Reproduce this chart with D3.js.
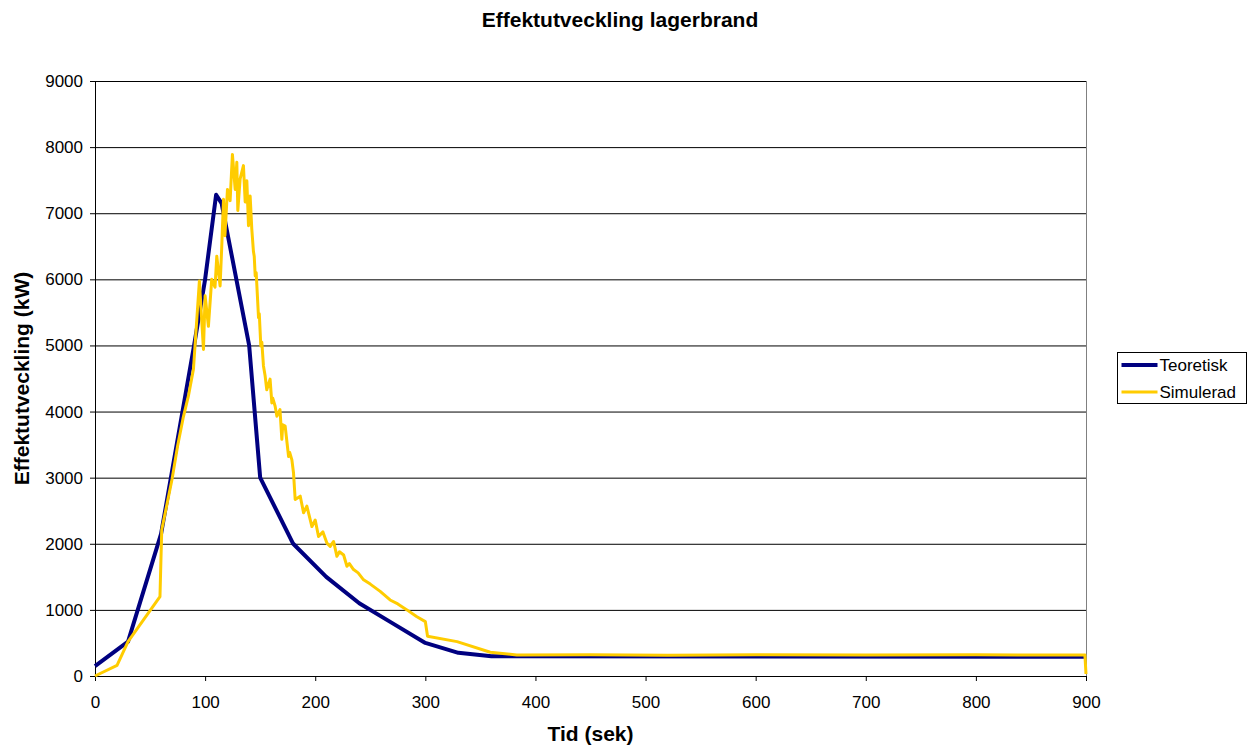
<!DOCTYPE html>
<html>
<head>
<meta charset="utf-8">
<script src="https://cdn.jsdelivr.net/npm/d3@7"></script>
<style>
  body { margin: 0; background: #fff; }
  text { font-family: Arial, "Liberation Sans", sans-serif; }
  .axis text { font-size: 17px; fill: #000; }
  .axis path, .axis line { stroke: #000; }
  .grid line { stroke: #000; }
  .grid path { display: none; }
</style>
</head>
<body>
<div id="chart"></div>
<script>
// Data
var theoTime  = [0, 30, 60, 90, 100, 110, 115, 140, 150, 180, 210, 240, 270, 300, 330, 360, 900];
var theoPower = [150, 520, 2150, 5000, 6000, 7280, 7150, 5000, 3000, 2000, 1500, 1100, 800, 500, 350, 300, 290];

var simTime  = [0, 20, 30, 59, 60.6, 66, 70, 75, 80, 85, 89.4, 94.8, 98.5, 100, 103, 106, 109, 110.6, 113.6, 115, 116.7,
                118, 120.3, 122.7, 124.8, 127.3, 128.8, 129.7, 131.8, 134.8, 136.4, 137.9, 139.4, 140.9, 142.4, 143.9,
                144.6, 145.5, 146.4, 148.5, 149.2, 150.6, 151.5, 153, 154.5, 156, 159, 160.6, 161.5, 163.6, 165.2, 168,
                169.7, 170.5, 172.7, 175.8, 176.8, 178.8, 180.3, 181.8, 186.4, 189.4, 192.4, 197, 200, 203, 207, 210.6,
                213.6, 216.7, 219.7, 222, 225.8, 228.8, 231, 234.8, 239, 243.9, 250, 259, 268, 275, 283.3, 292, 300, 302,
                328.8, 359, 383, 450, 520, 600, 700, 800, 899, 900];
var simPower = [0, 160, 520, 1200, 2210, 2650, 2980, 3480, 3900, 4250, 4640, 5975, 4940, 5750, 5290, 6000, 5880, 6350, 5900, 6450, 7210,
                6660, 7360, 7190, 7890, 7360, 7770, 7040, 7520, 7720, 7170, 7490, 6810, 7260, 6760, 6420,
                6350, 6050, 6100, 5420, 5480, 4990, 5050, 4690, 4540, 4330, 4490, 4130, 4200, 4080, 3930, 4030,
                3580, 3800, 3780, 3320, 3380, 3270, 3070, 2670, 2720, 2470, 2570, 2260, 2360, 2110, 2180, 2010,
                1960, 2035, 1810, 1880, 1830, 1660, 1700, 1610, 1560, 1455, 1390, 1280, 1150, 1090, 1000, 900, 823, 600,
                520, 360, 318, 320, 315, 322, 318, 320, 318, 30];

var xTicks = [0, 100, 200, 300, 400, 500, 600, 700, 800, 900];
var yTicks = [0, 1000, 2000, 3000, 4000, 5000, 6000, 7000, 8000, 9000];

var seriesNames = ["Teoretisk", "Simulerad"];
var seriesColors = ["#000080", "#FFCC00"];

var margin = { left: 95, right: 162, top: 81, bottom: 69 };
var width = 1248 - margin.left - margin.right,
    height = 745 - margin.top - margin.bottom;

var svg = d3.select("#chart")
    .append("svg")
        .attr("width", 1248)
        .attr("height", 745);

var g = svg.append("g")
    .attr("transform", "translate(" + margin.left + "," + margin.top + ")");

// Scales
var x = d3.scaleLinear()
    .domain([0, 900])
    .range([0, width]);
var y = d3.scaleLinear()
    .domain([0, 9000])
    .range([height, 0]);

// Grid
g.append("g")
    .attr("class", "grid")
    .call(d3.axisLeft(y).tickValues(yTicks.slice(1)).tickSize(-width).tickFormat(""));

// right border of plot area
g.append("line")
    .attr("x1", width + 0.5).attr("x2", width + 0.5)
    .attr("y1", 0).attr("y2", height)
    .attr("stroke", "#808080");

// Axes
g.append("g")
    .attr("class", "x axis")
    .attr("transform", "translate(0," + height + ")")
    .call(d3.axisBottom(x).tickValues(xTicks).tickSize(5).tickSizeOuter(0).tickPadding(15).tickFormat(d3.format("d")));
g.append("g")
    .attr("class", "y axis")
    .call(d3.axisLeft(y).tickValues(yTicks).tickSize(5).tickSizeOuter(0).tickPadding(7).tickFormat(d3.format("d")));

// Lines
var line = d3.line()
    .x(function(d){ return x(d[0]); })
    .y(function(d){ return y(d[1]); });

g.append("path")
    .datum(theoTime.map(function(t, i){ return [t, theoPower[i]]; }))
    .attr("fill", "none")
    .attr("stroke", seriesColors[0])
    .attr("stroke-width", 4)
    .attr("stroke-linejoin", "round")
    .attr("d", line);

g.append("path")
    .datum(simTime.map(function(t, i){ return [t, simPower[i]]; }))
    .attr("fill", "none")
    .attr("stroke", seriesColors[1])
    .attr("stroke-width", 3)
    .attr("stroke-linejoin", "round")
    .attr("d", line);

// Labels
svg.append("text")
    .attr("x", 620)
    .attr("y", 27)
    .attr("font-size", "21px")
    .attr("font-weight", "bold")
    .attr("text-anchor", "middle")
    .text("Effektutveckling lagerbrand");
svg.append("text")
    .attr("x", margin.left + width / 2)
    .attr("y", 741)
    .attr("font-size", "21px")
    .attr("font-weight", "bold")
    .attr("text-anchor", "middle")
    .text("Tid (sek)");
svg.append("text")
    .attr("transform", "rotate(-90)")
    .attr("x", -(margin.top + height / 2))
    .attr("y", 29)
    .attr("font-size", "21px")
    .attr("font-weight", "bold")
    .attr("text-anchor", "middle")
    .text("Effektutveckling (kW)");

// Legend
var legend = svg.append("g")
    .attr("transform", "translate(1117.5,352.5)");

legend.append("rect")
    .attr("width", 129)
    .attr("height", 51)
    .attr("fill", "#fff")
    .attr("stroke", "#000");

seriesNames.forEach(function(name, i){
    var legendRow = legend.append("g")
        .attr("transform", "translate(0," + (12.5 + i * 27) + ")");

    legendRow.append("line")
        .attr("x1", 4).attr("x2", 40)
        .attr("stroke", seriesColors[i])
        .attr("stroke-width", i == 0 ? 4 : 3);

    legendRow.append("text")
        .attr("x", 42)
        .attr("y", 6)
        .attr("font-size", "17px")
        .text(name);
});
</script>
</body>
</html>
